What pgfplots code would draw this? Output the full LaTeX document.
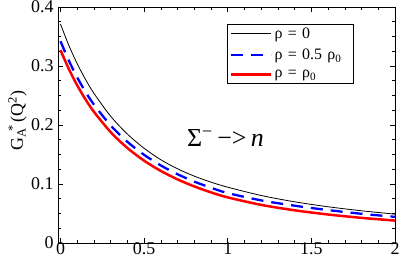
\documentclass[border=0pt]{standalone}
\usepackage{fontspec}
\setmainfont{Liberation Serif}
\usepackage{pgfplots}
\pgfplotsset{compat=1.18}
\begin{document}
\begin{tikzpicture}
\begin{axis}[
  name=ax,
  scale only axis,
  width=337bp, height=236bp,
  xmin=-0.015, xmax=2, ymin=0, ymax=0.4,
  xtick={0,0.5,1,1.5,2},
  ytick={0,0.1,0.2,0.3,0.4},
  /pgf/number format/assume math mode=true,
  xticklabels={0,0.5,1,1.5,2},
  yticklabels={0,0.1,0.2,0.3,0.4},
  minor x tick num=4,
  minor y tick num=3,
  tick align=inside,
  major tick length=5bp,
  minor tick length=3bp,
  axis line style={line width=0.8bp},
  every tick/.style={line width=0.6bp, black},
  tick label style={font=\fontsize{18}{18}\selectfont},
  xticklabel style={yshift=1.5bp, inner ysep=1bp},
  yticklabel style={xshift=-1bp},
  ylabel={G\textsubscript{A}\kern-0.25em\textsuperscript{*}\,(Q\textsuperscript{2})},
  ylabel style={font=\fontsize{18}{18}\selectfont, at={(axis description cs:-0.12,0.52)}, anchor=center},
  legend style={at={(0.501,0.93)}, anchor=north west, draw=black, line width=0.6bp,
    font=\fontsize{16}{16}\selectfont, inner xsep=3bp, inner ysep=2bp, row sep=5bp,
    /tikz/every even column/.append style={text width=74bp}},
  legend cell align=left,
  legend image code/.code={\draw[#1] (0bp,0bp) -- (40bp,0bp);},
]
\addplot[black, line width=0.8bp, smooth] coordinates {
(0,0.371) (0.05,0.3348) (0.1,0.3038) (0.15,0.2770) (0.2,0.2536) (0.3,0.2148)
(0.4,0.1846) (0.5,0.1605) (0.6,0.1411) (0.7,0.1257) (0.8,0.1133) (0.9,0.1031)
(1.0,0.0946) (1.2,0.0805) (1.4,0.0698) (1.6,0.0614) (1.8,0.0546) (2.0,0.0489)};
\addlegendentry{ρ = 0}
\addplot[blue, line width=2.3bp, dash pattern=on 12bp off 8bp, smooth] coordinates {
(0,0.342) (0.05,0.3090) (0.1,0.2806) (0.15,0.2560) (0.2,0.2346) (0.3,0.1992)
(0.4,0.1715) (0.5,0.1494) (0.6,0.1314) (0.7,0.1165) (0.8,0.1040) (0.9,0.0936)
(1.0,0.0846) (1.2,0.0722) (1.4,0.0632) (1.6,0.0558) (1.8,0.0495) (2.0,0.0443)};
\addlegendentry{ρ = 0.5 ρ\textsubscript{0}}
\addplot[red, line width=2.5bp, smooth] coordinates {
(0,0.327) (0.05,0.2948) (0.1,0.2671) (0.15,0.2432) (0.2,0.2223) (0.3,0.1879)
(0.4,0.1610) (0.5,0.1395) (0.6,0.1221) (0.7,0.1078) (0.8,0.0959) (0.9,0.0858)
(1.0,0.0773) (1.2,0.0646) (1.4,0.0554) (1.6,0.0483) (1.8,0.0426) (2.0,0.0380)};
\addlegendentry{ρ = ρ\textsubscript{0}}
\node[anchor=base west, font=\fontsize{26}{26}\selectfont, inner sep=0pt] at (axis cs:0.756,0.163) {Σ\textsuperscript{−}\,−>\,\textit{n}};
\end{axis}
\pgfresetboundingbox
\path ([xshift=-58bp,yshift=-18bp]ax.south west) rectangle ([xshift=7bp,yshift=7bp]ax.north east);
\end{tikzpicture}
\end{document}
